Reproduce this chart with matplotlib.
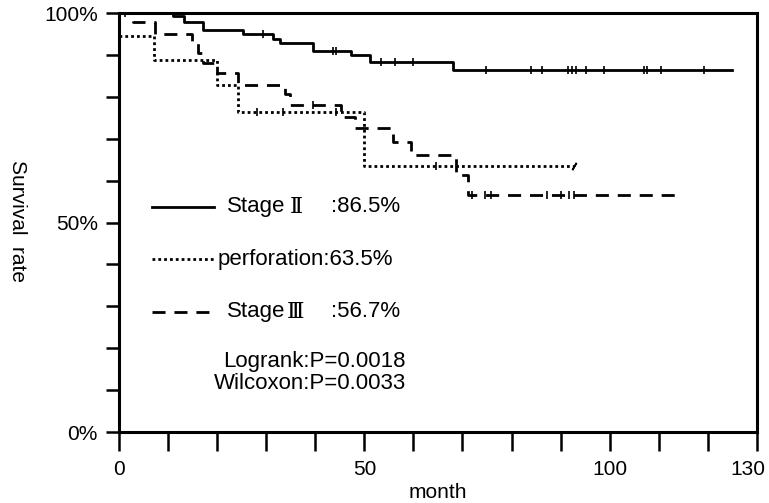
import numpy as np
import matplotlib
matplotlib.use('Agg')
import matplotlib.pyplot as plt
from matplotlib.transforms import ScaledTranslation

plt.rcParams['font.family'] = ['Liberation Sans', 'DejaVu Sans']
plt.rcParams['font.size'] = 15

# Kaplan-Meier steps (month, survival %)
st2_t = [0, 10.9, 13.3, 17.1, 25.3, 31.4, 32.8, 39.5, 47.3, 51.1, 68.0]
st2_s = [100, 99.2, 97.9, 96.0, 95.0, 93.7, 92.8, 91.0, 90.0, 88.4, 86.5]
st2_end = 124.9
st2_cens = [1.2, 29.3, 43.5, 44.3, 53.4, 56.2, 59.9, 74.8, 84.0, 86.3, 91.5,
            92.4, 93.2, 95.2, 98.9, 107.0, 107.7, 110.4, 119.2]

perf_t = [0, 7.0, 19.9, 24.3, 50.0]
perf_s = [94.5, 88.8, 82.8, 76.4, 63.5]
perf_end = 92.8
perf_cens = [28.1, 33.4, 44.3, 64.7]

st3_t = [0, 2.9, 7.3, 14.8, 16.1, 17.1, 19.9, 24.3, 33.8, 34.8, 45.3, 48.0,
         55.8, 59.5, 68.7, 71.1]
st3_s = [100, 97.8, 95.0, 92.8, 90.4, 88.0, 85.6, 82.8, 80.8, 78.0, 75.2, 72.5,
         69.3, 66.1, 61.4, 56.7]
st3_end = 114.7
st3_cens = [39.5, 72.0, 74.5, 75.9, 87.3, 90.1, 91.8, 92.8]

xticks = list(range(0, 131, 10))
xlabels = ['0', '', '', '', '', '50', '', '', '', '', '100', '', '', '130']
yticks = list(range(0, 101, 10))
ylabels = ['0%', '', '', '', '', '50%', '', '', '', '', '100%']

LW = 2.0
DOT = (0, (1, 1.1))
DASH = (0, (4.7, 3.2))
FS = 16


def km(ax, t, s, end, cens, **kw):
    ax.step(t + [end], s + [s[-1]], where='post', color='black', **kw)
    idx = np.searchsorted(t, cens, side='right') - 1
    ax.plot(cens, np.array(s)[idx], ls='none', marker='|', ms=6, mew=1.2,
            color='black')


fig = plt.figure(figsize=(7.69, 5.03), dpi=100)
ax = fig.add_axes([0.155, 0.141, 0.829, 0.833])

km(ax, st2_t, st2_s, st2_end, st2_cens, lw=LW)
km(ax, perf_t, perf_s, perf_end, perf_cens, lw=LW, ls=DOT,
   dash_capstyle='butt')
ax.plot([perf_end], [perf_s[-1]], ls='none', marker=(2, 2, -30), ms=6,
        mew=1.2, color='black')
km(ax, st3_t, st3_s, st3_end, st3_cens, lw=LW, ls=DASH)

ax.set_xlim(0, 130)
ax.set_ylim(0, 100)
ax.set_xticks(xticks)
ax.set_xticklabels(xlabels)
ax.set_yticks(yticks)
ax.set_yticklabels(ylabels)
ax.tick_params(axis='x', direction='out', length=14, width=1.8, pad=6)
ax.tick_params(axis='y', direction='out', length=9.5, width=1.8, pad=6)
for sp in ax.spines.values():
    sp.set_linewidth(2.2)
lab130 = ax.get_xticklabels()[-1]
lab130.set_transform(lab130.get_transform() +
                     ScaledTranslation(-9 / 100, 0, fig.dpi_scale_trans))

ax.set_xlabel('month', labelpad=3)
fig.text(0.023, 0.56, 'Survival  rate', rotation=270, ha='center',
         va='center')

# legend drawn by hand
tr = ax.transAxes
ax.plot([0.051, 0.148], [0.538, 0.538], color='black', lw=LW, transform=tr)
t1 = ax.text(0.169, 0.538, 'Stage', va='center', transform=tr, fontsize=FS)
ax.annotate('Ⅱ', xy=(1, 0.5), xycoords=t1, xytext=(3, 0),
            textcoords='offset points', va='center', family='DejaVu Serif',
            fontsize=FS)
ax.text(0.332, 0.538, ':86.5%', va='center', transform=tr, fontsize=FS)
ax.plot([0.051, 0.150], [0.413, 0.413], color='black', lw=LW,
        ls=DOT, dash_capstyle='butt', transform=tr)
ax.text(0.155, 0.413, 'perforation:63.5%', va='center', transform=tr,
        fontsize=FS)
ax.plot([0.051, 0.148], [0.287, 0.287], color='black', lw=LW,
        ls=DASH, transform=tr)
t3 = ax.text(0.169, 0.287, 'Stage', va='center', transform=tr, fontsize=FS)
ax.annotate('Ⅲ', xy=(1, 0.5), xycoords=t3, xytext=(1, 0),
            textcoords='offset points', va='center', family='DejaVu Serif',
            fontsize=FS)
ax.text(0.332, 0.287, ':56.7%', va='center', transform=tr, fontsize=FS)
ax.text(0.450, 0.168, 'Logrank:P=0.0018', ha='right', va='center',
        transform=tr, fontsize=FS)
ax.text(0.450, 0.117, 'Wilcoxon:P=0.0033', ha='right', va='center',
        transform=tr, fontsize=FS)

fig.savefig('out.png', dpi=100)
